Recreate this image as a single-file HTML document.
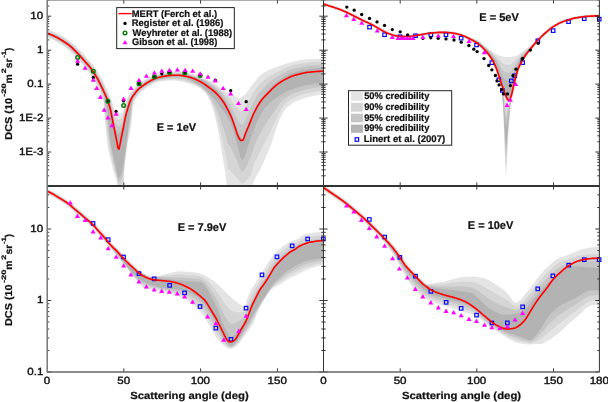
<!DOCTYPE html><html><head><meta charset="utf-8"><style>html,body{margin:0;padding:0;background:#fff;}svg{display:block;will-change:transform;} text{font-family:"Liberation Sans",sans-serif;text-rendering:geometricPrecision;}</style></head><body>
<svg width="608" height="402" viewBox="0 0 608 402">
<rect width="608" height="402" fill="#fff"/>
<defs>
<clipPath id="cTL"><rect x="47" y="0" width="276.5" height="186"/></clipPath>
<clipPath id="cTR"><rect x="323.5" y="0" width="276" height="186"/></clipPath>
<clipPath id="cBL"><rect x="47" y="186" width="276.5" height="186"/></clipPath>
<clipPath id="cBR"><rect x="323.5" y="186" width="276" height="186"/></clipPath>
</defs>
<g clip-path="url(#cTL)">
<path fill="#e4e4e4" d="M45.7,36.8 54.2,40.5 60.9,44.3 67.5,49 72.2,53.4 78.6,60.2 85.5,68 88.4,71.5 93.6,79.8 98.5,89.3 103.6,100.9 104.5,116 107.5,146 108.5,151.2 112.5,167.4 117,182 118.5,189.9 123.5,190 124.5,167.8 127,146.7 131.5,124.3 132,119.5 132.8,105.6 133.2,104.3 134.1,101.9 135.8,98.8 138.6,94.9 141.2,91.9 147.6,87.1 151.4,84.8 154.7,83.1 159,81.4 168.5,80.4 174.5,80.6 184,82.1 193,84.7 198.5,87.2 201,88.8 203,90.5 205.5,93.1 207,95.2 210,101.1 213,109.1 215,116.5 217,125.3 220.5,144.3 225,171.4 226.5,182.4 227.5,195 251,195 252.5,185.6 254,181.1 255.5,177.8 260,170 268,152.3 271,144.6 278,123.6 280.5,117.5 283.5,111.7 286.5,108 289,105.7 292,103.5 295.5,101.6 299.5,99.9 305.5,97.8 310.5,96.4 317.5,94.9 323.5,94 323.5,75 323.7,75 323.5,58.4 307.5,59.3 301,60.1 295.5,61.1 286.5,63.5 272.5,68.6 268,70.5 263,73.2 259.5,75.8 252.5,84.2 245.5,94.2 242,97.1 240,97.9 237.5,97.5 234.5,96.1 225,90.6 213,82.7 210,81 194.3,74.6 187.9,72.7 181,71.6 177,71.3 169.2,71.5 160.2,73 156.8,73.8 154,74.8 149.8,76.8 146.5,78.6 142.3,81.3 138.1,84.3 135.8,86.3 133.5,88.8 130.3,93 128.1,96.5 125.8,101.7 122.4,113 115.2,113 113.2,105.1 110.6,97.4 105.5,86 101.4,77.9 97.8,71.6 94.6,66.8 91.4,62.9 83.4,53.8 75.7,45.9 70.8,41.7 62.5,36.1 54.6,32 48.3,29.4 45.7,36.8Z"/>
<path fill="#d5d5d5" d="M46,35.8 54.2,39.3 60.5,42.9 67.2,47.5 72,51.7 78.9,58.9 86.3,67.3 89.2,70.9 94,78.5 98.9,87.9 103.6,98.1 104.5,109.6 107.5,135 109.5,148.6 112,160.5 116.5,177 118,184.4 118.5,186 120,185.6 121.5,184.5 123.5,181 124.5,164.2 127,144.5 131.5,117.5 132.9,102.2 134,99.8 135.8,96.9 138.7,93.1 140.9,90.8 147.6,86 154.2,82.2 156,81.4 159.5,80.5 168,79.4 174.5,79.4 183,80.3 190,82.4 197,85.5 202,88.7 206,92.6 209,97 212.5,104 214.5,109.4 216.5,115.9 220,129.8 225,152 226.5,160.1 227.5,169 230,170.6 231.5,171.9 236.5,177.2 240.5,182.3 241.5,183.1 242.5,183.3 243.5,183.1 245,182 249,177.6 251,175.8 252.5,168.2 254,163.9 255.5,160.4 270,132.5 278.5,113.7 281.5,108.4 283.5,105.5 286.5,102.5 289.5,100.2 293,98.2 297.5,96.3 304,94.1 310,92.5 317,91.2 323.5,90.3 323.5,61.5 316,61.8 308,62.5 301,63.5 295,64.8 290,66.2 286.5,67.4 275,72.9 269,76.4 262.5,81.2 259,84.7 255,90.3 249.5,99.4 245,108.1 243,110.3 242,110.9 241,111 240,110.6 239,109.9 236,107 230,99 223,92 214,84.8 208,81.1 203,78.8 196,76.1 192,74.7 188,73.8 183.9,73 178.2,72.3 170.9,72.4 167.6,72.7 158.3,74.5 155.5,75.3 152.3,76.7 148.6,78.6 143.9,81.4 139.8,84.4 136.5,87 134.3,89.5 131.1,93.6 129.5,96 127.9,99.1 124.2,110.1 122.3,117.9 119.5,119.7 118.5,120 116,118.7 115.2,118.5 113.3,109.3 110.7,100.7 108.1,94.1 103.1,83.3 100,77.4 96.4,71.3 93.8,67.5 90.7,63.6 81.1,52.8 74.5,46.1 69.7,42.1 64,38.3 56.8,34.2 48,30.4 46,35.8Z"/>
<path fill="#c5c5c5" d="M46.4,34.9 54.7,38.4 60.5,41.7 67.4,46.3 72.2,50.5 79.1,57.7 89.5,69.7 94.4,77.1 99.3,86.4 103.5,95.4 106.5,115.8 110,145.7 112,155.5 116.5,173.7 118,180.9 118.5,182 119,181.9 120,181.2 121.5,179.1 123.5,172 124.5,160.6 129.5,123.1 132,107.5 132.9,99.6 136.5,94.3 140.2,90 146,85.7 151.9,82.2 158.5,79.9 166,78.6 173.5,78.2 182,78.6 187.5,80 194,82.9 200.5,86.6 205,90.4 207.5,93.1 210,96.5 212.5,100.5 214.5,104.4 218,112.7 224.5,131.1 226.5,137.8 227.5,143.1 230,146.2 231.5,148.8 236.5,159.4 240.5,169.6 241.5,171.2 242.5,171.7 243.5,171.1 245,169.1 249,160.3 251,156.6 252.5,150.8 255,144.1 257,139.8 262.5,129.3 266,123.6 277.5,106.5 282.5,100.3 285.5,97.8 289,95.5 293,93.6 298,91.7 304,89.9 310,88.5 317,87.3 323.5,86.7 323.5,64.6 312,65.3 303.5,66.5 294,68.8 289.5,70.1 286.5,71.4 280.5,74.6 272.5,79.8 266.5,85 260.5,91.1 257,96 254,101.5 249.5,110.6 245,121.5 243.5,123.8 242.5,124.5 242,124.6 240.5,123.9 238.5,121.3 235,115.3 230,104.6 227,100 224,95.9 221,92.5 217,88.7 213,85.5 209,82.8 204.5,80.3 200.5,78.5 192,75.5 186,74.1 178.1,73.4 171.4,73.4 168.2,73.6 161.6,74.7 155.8,76.3 148.6,79.8 144,82.6 139.4,85.9 137.2,87.7 135,90.1 130.9,95.6 128.8,99.5 124.7,112.2 122.4,122.7 119.5,126.3 118.5,127 118,126.8 116,124.3 115.2,124 112.8,111.6 111.8,107.6 109.8,101 107.2,94.5 102.7,84.8 99.6,78.8 95.6,71.9 92.5,67.4 88.9,63.1 78.3,51.4 72.8,45.9 68.1,42.2 63,38.8 57.9,35.9 52.8,33.4 47.6,31.3 46.4,34.9Z"/>
<path fill="#b3b3b3" d="M46.7,34 55.1,37.6 61.5,41.2 67.9,45.6 72.8,49.9 79.8,57.1 90.2,69.1 94.7,75.8 99.6,85 103.4,93 106,103.2 107.5,112.9 109.5,135.8 110.5,143.1 117.5,175.5 118,177.3 118.5,178 119.5,177.4 121,175 121.5,173.6 122.5,168.9 126.5,143.7 130.5,110.1 131.5,103.8 133,97.9 136.3,93.1 139.6,89.3 145,85.3 150,82.2 156.5,79.7 164,78 172,77.1 181.5,77 185.5,77.8 190.5,79.9 200.5,85.7 203.5,88 210,94.2 214.5,99.3 224.5,112.5 228.5,118.9 230.5,123.1 233,130.3 236.5,141.6 240.5,157 241.5,159.3 242,159.8 242.5,160 243.5,159.2 245,156.1 249.5,141.4 254.5,128.1 257,122.1 260.5,115.1 263,110.8 265,108 268.5,104.3 273,100.5 280.5,95.1 285.5,92.1 289.5,90.2 298,87.3 306.5,85.1 314.5,83.8 323.5,83 323.5,67.7 318,68 310.5,68.7 305.5,69.5 300,70.7 289,74.1 285.5,75.8 281.5,78.4 274.5,83.7 270.5,87.4 263.5,95.4 259,101.4 256.5,105.7 252.1,114.7 244.1,134.4 242.9,138.3 242.5,138.4 242,138.4 241,137.6 239,134.1 236.2,127.8 230,110.1 225.5,101.4 222.5,96.7 220,93.5 216.5,89.9 212,86.1 206,82 201.5,79.5 192.5,76.4 186,74.8 181,74.2 170.4,74.3 163.8,75.3 159.3,76.2 155.6,77.3 151.6,79.2 148,81.1 143.4,84.1 137.8,88.4 135.7,90.7 132.7,94.7 131.2,97 129.6,100 126.6,109 124.6,116.5 122.4,127.6 119.5,133 119,133.7 118.5,134 118,133.7 116,130 115.4,129.6 111.9,111.8 109.9,104.3 107.9,98.5 103.9,89.4 99.9,81.1 96.3,74.8 92.8,69.3 89.2,64.8 79.2,53.6 73.7,48 69.6,44.4 64.5,40.9 58.5,37.2 52.9,34.4 47.3,32.2 46.7,34ZM111.9,122.3 112.5,125.2 113.1,128.1 112.5,126.2 111.9,122.3Z"/>
</g>
<g clip-path="url(#cTR)">
<path fill="#e4e4e4" d="M323,5.5 336.5,9.9 345.4,13.5 362.3,21.9 371.8,26.3 384.8,33.7 393.6,37 400.9,38 408.1,38.1 412.7,37.6 426.7,35.2 434.1,34.4 439.1,34 445,34 450.8,34.4 458.1,35.8 464.8,38.2 474.2,43 477.5,45.3 480.4,47.7 484.3,51.6 487.2,55.1 490.1,59.4 492.6,63.8 495,69.2 502,90.1 502,93 503.5,117 505,160 505.5,171.2 506,177 506.5,171.9 508.5,131.6 510.9,101 512,98.6 513.1,95.5 516.6,80.1 519,71 520.9,66.3 524.9,59.2 528.8,53.5 536.2,44.4 540.1,40.1 545.1,35.4 551,30.3 553.4,28.5 556.8,26.4 560.7,24.3 565,22.5 574.8,19.7 586.6,17.9 599.5,17.5 599.5,14.3 586.9,14.7 579.3,15.7 573.6,16.7 565.5,19 561.4,20.5 554.7,23.9 549.5,27.4 540.4,35.4 536.3,39.5 533,43.3 523.5,51 518.5,54.5 516.5,55.7 515,56.2 510.5,56.9 506.5,57.1 504,56.7 500,55.7 496,54 490.5,50.6 480.5,42.1 478,40.3 475,38.9 470.4,37.4 464.6,34.6 459.9,33 455.8,32 450.7,31.2 446,30.8 439.5,30.8 428.3,31.8 418.8,33.5 408.4,34.8 401.6,34.9 395.3,34.1 390,32.4 386.2,30.8 372.7,23.2 363.2,18.8 348.7,11.5 340.1,7.8 324,2.5 323,5.5Z"/>
<path fill="#d5d5d5" d="M323.1,5.1 336.6,9.5 345.5,13.1 362.5,21.6 372,25.9 385,33.3 393.7,36.6 400.9,37.6 408,37.7 412.7,37.2 426.7,34.8 434.1,34 439,33.6 445,33.6 450.9,34 457.7,35.3 464.5,37.6 473.9,42.4 479.7,46.5 484.1,50.8 487.1,54.3 490,58.4 492.5,62.6 495.4,69.1 502,88.9 502,92 503.5,113.4 505,151.4 505.5,161.3 506,166.5 506.5,162.3 508.5,127.6 510.9,100.1 512.6,95.4 516.1,80 519.1,69.4 521,65.2 525.5,57.4 527.9,53.8 534.9,45.3 540.8,38.8 545.8,34.2 551.2,29.6 554.1,27.5 557.6,25.5 561.5,23.5 565.4,22 575.2,19.2 586.6,17.5 599.5,17.1 599.5,14.7 587.4,15.1 580.8,15.9 573.7,17.1 566.7,19.1 562.1,20.7 557.5,22.9 551.3,26.5 543.7,32.8 537.7,38.7 533,43.9 521,54.6 514.5,61.3 510.5,64.4 509.5,64.8 508,64.9 504.5,64.3 502.5,63.1 495.5,55.8 485.5,47 478.5,41.3 474.5,39.2 469,37.1 465.5,35.4 461.4,33.8 456.3,32.5 451.1,31.6 446,31.2 439.5,31.2 428.3,32.2 418.8,33.9 408.4,35.3 401.6,35.3 394.8,34.4 389.4,32.6 386,31.2 372.5,23.5 363,19.2 348.5,11.9 341.5,8.8 335.9,6.7 323.9,2.9 323.1,5.1ZM503.4,92.8 505.4,98 506.6,100.1 508.1,101.5 509,101.8 509.8,101.5 509,103.7 507,106.8 506.5,107.2 506,106.7 505.5,104.8 503.4,92.8Z"/>
<path fill="#c5c5c5" d="M323.2,4.7 336.7,9.1 345.7,12.7 362.7,21.2 372.1,25.5 385.2,33 393.8,36.2 400.9,37.2 408,37.2 412.6,36.8 426.6,34.4 434.1,33.5 439,33.2 445,33.2 450.9,33.6 457.8,34.9 464.7,37.2 474.1,42 479.5,45.8 483.9,50 486.9,53.4 489.9,57.4 492.3,61.5 495.8,68.9 502,87.6 502,91 503.5,109.9 505.5,151.4 506,156 506.5,152.6 508.5,123.5 511,98.8 512.2,95.3 515.7,79.9 518.7,69.3 520.7,65 526.1,55.6 535.6,43.9 541.5,37.5 546,33.4 551.5,28.8 554.4,26.8 557.9,24.8 561.3,23.1 565.3,21.6 575.2,18.8 586.6,17.1 599.5,16.7 599.5,15.1 595.5,15.1 585.9,15.6 575.4,17.2 572.3,17.9 563.7,20.5 558.7,22.7 553.6,25.5 549.5,28.4 542,35 536.9,40 533,44.5 522,55.3 519,59 514.5,66.3 511,71.2 509.5,72.6 508.5,72.7 505,72 503.5,71 501.5,68.2 497.5,61 495.5,57.9 488.5,50.4 483,45.4 479,42.3 475,40 471,38.1 462.8,34.8 457.7,33.2 452.1,32.2 446.5,31.7 440,31.6 428.4,32.6 418.9,34.3 408.4,35.7 401.6,35.7 394.7,34.8 389.3,33 385.8,31.6 372.3,23.9 363.8,20 348.8,12.5 343.8,10.2 336.8,7.5 323.8,3.3 323.2,4.7ZM502.1,87.9 505.8,97.8 506.9,99.9 508,101 509,101.4 510,100.8 510.5,100 507,115.1 506.5,116.9 506,117.2 505,110.8 503.5,96.7 502.1,87.9Z"/>
<path fill="#b3b3b3" d="M323.4,4.4 336.9,8.8 345.8,12.4 362.8,20.9 372.3,25.2 385.3,32.6 393.9,35.8 401.5,36.8 408,36.9 412.6,36.4 426.6,34.1 434,33.2 440,32.8 446,32.8 450.5,33.2 457.4,34.4 464.3,36.6 473.8,41.4 479.3,45.1 483.7,49.3 487.2,53.2 490.2,57.2 493.1,62.2 496.1,68.8 502.1,86.9 506.7,98.8 508.2,100.7 509.1,101 509.9,100.4 511,97.8 508,115 506.5,125.4 506,126.5 505,118.5 503.5,99.8 502,88.2 502,90.1 503.5,106.7 505,135.1 506,146.7 506.5,144 508.5,119.9 511.2,97.2 512.4,93.2 515.9,77.9 518.4,69.2 520.9,63.9 523.8,58.6 526.3,54.7 535.8,43 542.3,36.3 551.7,28.2 558.2,24.3 561.7,22.6 565.6,21 575.6,18.3 586.5,16.8 599.5,16.3 599.5,15.5 587.5,15.9 579.9,16.8 573.9,17.8 565.9,20.1 561.8,21.6 556.3,24.4 551.8,27.2 545.2,32.5 539.7,37.7 522,56.9 520,59.7 518.5,62.3 514.5,71.3 511,78.3 510,79.9 509,80.6 507,80.3 505,79.5 503.5,78.1 501.5,74.3 496,60.8 493,56.4 488.5,51.1 484.5,47.2 480.5,44 474,39.9 468.5,37.2 461.1,34.6 456.6,33.4 451,32.4 445.5,32 438.5,32 432,32.6 425.9,33.3 412.4,35.6 408.5,36 401.5,36.1 394.6,35.2 389.1,33.4 385.7,31.9 372.7,24.5 363.2,20.1 345.2,11.2 337.1,8 323.6,3.6 323.4,4.4ZM473.6,40.4 467.2,37.1 466.4,36.7 470,38.3 473.6,40.4Z"/>
</g>
<g clip-path="url(#cBL)">
<path fill="#e4e4e4" d="M46.5,193.6 52.2,196.4 61.6,202.1 67,205.7 89.7,225 102.1,238.5 108.1,245.9 111.3,249.1 128,269.4 135,278.5 144,288.4 146,289.1 155,289.9 161.5,291.1 169.5,293.1 178.5,296.1 182.5,297.7 185.5,299.2 196.5,307.5 200,311.1 204,316.6 209,324.7 216,337.4 222.5,344.6 227,347.8 228.5,348.6 232,348.5 234,347.8 237,345.9 239.5,343.1 252,325.4 253.5,322.4 257.5,312.6 262.5,302.3 267.5,293.9 269.5,291.3 271.5,289.4 275,286.9 279.5,284.7 283,282.6 289.5,278.1 295.5,275.5 305.5,270.2 309,268.7 314.5,266.9 319,265.7 323.5,264.8 323.5,231.7 314,232.5 309,233.4 305.5,234.3 302,235.7 297.5,238.9 289,242.4 283.5,245.8 279,249.4 274,254.6 269.5,260.4 255.5,283 250.5,290.5 248,296.5 245,306.4 244.5,307 244,306.9 242.5,306.3 238.5,303.4 233,298.9 227.5,293.9 218,284.6 213.5,280.8 210,278.4 206,276.1 203,274.7 199.5,273.4 197,272.7 194,272.3 183,271.4 178.5,271.3 175.5,271.7 169,273.2 160.5,275.4 151.8,276.9 148.3,275.8 144.1,273.7 140,270.8 131.5,263.1 126.1,257.8 118.6,249.5 112.2,243.2 105.7,235.4 93.1,221.6 81.4,211.6 76.5,207.6 71.9,203.4 65.7,199 54.6,192.3 48.3,189.2 46.5,193.6Z"/>
<path fill="#d5d5d5" d="M46.7,193 52.5,195.8 62,201.6 67.4,205.2 90.2,224.6 102.1,237.6 108,244.8 110.6,247.6 134.5,277.1 137.5,280.3 143.5,285.9 144.5,286.6 146.5,287.1 168.5,291.5 177,293.6 182,295.1 185,296.3 187,297.3 194,302 197.5,304.7 201,308.2 205,313.6 209.5,320.8 215.5,331.6 222,341.2 223.5,343 227,346.2 228.5,347.3 229.5,347.6 232,347.6 234.5,346.3 237.5,343.6 240.5,339.7 251.5,323.5 258.5,309 262,302.5 265.5,296.7 269.5,290.8 273.5,286.5 276,284.6 289,275.5 303,268.3 307.5,266.4 311.5,265.2 318,263.6 323.5,262.7 323.5,235.2 314.5,235.9 309,236.9 305.5,237.8 302,239.2 298,241.8 289.5,245.7 284.5,248.9 279.5,253.1 274.5,258.4 270.5,263.7 258.5,283.2 251.5,295 249,300.3 245,311.2 244.5,311.9 243,312.4 241.5,312.5 237.5,312.3 234.5,311.8 231.5,310.7 229,308.7 224,302.4 217.5,292.5 215,289.2 210.5,284.1 207,280.7 204,278.3 201.5,276.9 198.5,276 195.5,275.5 178.5,274.4 174,274.7 161,276.2 149.7,277 145,274.9 139.6,271.3 126.7,259.2 118.2,250 111.7,243.6 105.2,235.8 92.6,222 81,212 76.1,208 71.6,204 65.4,199.6 54.3,192.8 48.1,189.7 46.7,193Z"/>
<path fill="#c5c5c5" d="M47,192.5 52.8,195.3 62.3,201.1 67.7,204.7 90.1,223.7 94,227.7 104,238.9 134,275.7 138,279.7 142.5,283.2 145,284.6 152,286.7 161.5,288.8 178.5,291.9 185,293.6 188,294.9 192.5,297.5 196,299.8 199,302.1 201,304 203,306.3 207.5,312.8 212,320.3 223,339.8 227.5,345.1 229,346.3 230,346.7 231,346.9 232,346.7 233,346.2 234.5,345.1 237,342.4 241,337.1 244.5,332 250,323.2 257.5,309.2 263,300.2 270,289.5 273,285.8 275.5,283.2 282.5,277.4 288.5,272.9 302,265.6 306,264 309.5,262.9 317.5,261.3 323.5,260.7 323.5,238.6 319.5,238.8 314.5,239.5 309,240.4 305,241.6 301.5,243 291,248.5 287.5,250.6 283,254 278.5,258.3 274.5,262.8 271,267.7 258.5,288.2 254.5,295.2 251,302.3 244.5,316.8 241.5,319.5 236,322.8 233.5,323.8 232,323.9 231,323.7 230,323.1 228.5,321.5 224.5,315.3 222.5,311.5 217.5,300.8 215,296.4 207.5,285.3 205,282.4 203,280.6 200.5,279.3 197.5,278.8 180,277.5 161.5,277.1 153.5,276.7 149,276.9 147,276.2 144.5,274.5 139.2,271.8 130.2,263.6 124.2,257.6 117.7,250.4 111.2,244 105.3,236.8 95.7,226.1 90.2,220.6 75.6,208.5 71.1,204.4 66,200.7 53,192.7 47.8,190.3 47,192.5Z"/>
<path fill="#b3b3b3" d="M47.2,191.9 53.1,194.8 62.6,200.6 68,204.3 91,223.7 94.5,227.3 104.4,238.5 132,272.7 135.5,276.4 138.5,278.9 142,281 147,283.3 151.5,285.1 156.5,286.6 164.5,288.2 180.5,290.1 187,291.6 190,292.7 193.5,294.5 197,296.8 200.5,299.4 202.5,301.4 205,304.4 211,313.8 216,322.4 221.5,334.3 224,339 228,344.1 229.5,345.5 230.5,345.9 232,345.8 234,344.4 236,342 241.5,334.5 248,324.2 256,309.9 271,287.4 274.5,282.7 280.5,276.5 285,272.6 289,269.7 297,265 303,262.1 306.5,260.8 310,260 317.5,258.9 323.5,258.6 323.5,242.1 317,242.6 308,244.2 302.5,246 296.9,248.6 300.2,246.5 306.6,243.8 310.5,242.8 316.5,241.7 323.5,241.2 323.5,240 315.8,240.6 309.3,241.8 305.2,243 298.6,246 294.6,248.9 290.6,251 288,252.9 281,259.2 275.9,264.5 273.4,267.7 265.9,280.2 260.4,287.9 258.4,291.3 251.4,305.5 246.9,317.2 243,324.2 240.5,327.9 235,334.6 232.5,336.6 231.5,336.9 230.5,336.9 229.5,336.1 228.5,334.8 224,326.4 222,321.6 217.5,309.2 215,303.6 207,288.7 204.5,285.2 202.5,283.2 201,282.3 199.5,281.9 185.5,281 175,280 164,278.5 153.5,276.7 149,276.9 147,276.2 144.5,274.5 139.3,272.6 130.3,264.4 123.8,258 117.3,250.8 110.8,244.4 103.8,236 94.8,226 90.3,221.4 75.3,208.9 70.8,204.8 67.2,202.2 53.2,193.5 47.6,190.8 47.2,191.9Z"/>
</g>
<g clip-path="url(#cBR)">
<path fill="#e4e4e4" d="M322.2,189.6 341.6,202.9 355.5,214.2 365.8,223.5 382.5,240.1 389.5,248.9 394.5,256.1 406,277 411,285 413.5,288.3 416,291.2 421.5,296.2 424,298 426.5,299.4 433.5,302.5 461,310.8 471,314.1 476,316.2 479.5,318.3 486,323.7 495.5,330.4 508,338.4 515,341.9 517.5,342.8 520.5,343.4 528,344.5 539.5,344.1 541.5,343.9 543.5,343.3 551.5,338.6 558,333.7 562,330.2 570.5,322.1 578,316.1 584.5,309.6 587,307.5 589,306.3 591.5,305.6 596,304.8 599.5,304.5 599.5,246.8 592,247.3 582.5,249 579,250.3 566.5,255.4 560,257.4 557,259.1 551.5,263.2 544,270.4 539.5,275.6 529.5,288.9 524,295.7 518.5,301.7 517,302.6 515.5,302.7 514.5,302.2 513,300.7 507.5,293.3 504,290.3 500,287.3 492,282.1 488,279.8 485,278.6 479.5,277.2 474.5,276.6 462.5,277 454,278.7 445,281.4 426.9,284.2 422.2,280 408.8,265.9 406,262.3 401.5,255.4 398.4,251.1 394.8,246.6 390.8,241.9 379.7,230.3 365.1,216.3 357.5,209.7 345,199.4 324.8,185.6 322.2,189.6Z"/>
<path fill="#d5d5d5" d="M322.5,189.1 341.4,202 355.4,213.3 365.8,222.6 382.3,239 389,247.2 393.5,253.5 404.5,272.4 410.5,281.5 413.5,285.4 416.5,288.7 423,294.6 428,297.8 433,300 460,307.8 468.5,310.6 473,312.5 478.5,315.8 487.5,323.5 496.5,329.7 507,336 514.5,339.4 518,340.6 528.5,342.9 530.5,343 532,342.8 535.5,341.5 541,338.8 542.5,337.8 549.5,331.6 569.5,315.6 577.5,310 584,304.3 586.5,302.4 588.5,301.3 590,300.9 595.5,300 599.5,299.7 599.5,253.9 593.5,254.1 584.5,254.7 579.5,255.5 571,257.9 561,261.8 558,263.3 551.5,268.5 543.5,276.5 539.5,281.2 530.5,292.9 524,300.8 519,305.2 517.5,306.1 516.5,306.4 515.5,306.4 514,305.9 507.5,300.4 490.5,290.4 480,284.8 477,283.4 474.5,282.6 470.5,282 463,281.7 454,282.6 443.5,284.2 429.5,284.8 426.3,284.5 421.8,280.5 408.3,266.3 405.5,262.7 401,255.7 397.9,251.5 394.4,246.9 390.3,242.3 379.8,231.3 365.7,217.6 358.1,211 345.1,200.3 324.5,186.1 322.5,189.1Z"/>
<path fill="#c5c5c5" d="M322.9,188.6 340.8,200.8 348.8,207 363.7,219.8 380.7,236.4 386,242.5 392,250.3 395.5,255.6 403.5,268.9 410.5,278.7 417,286.3 424.5,293 428.5,295.7 433,297.6 437.5,299 448,301.5 459,304.7 465.5,306.8 471,309 474,310.7 477,312.9 487,321.7 494,326.7 502,331.8 506,333.8 509.5,335.3 516.5,337.8 527.5,341.2 530,341.5 532,341.1 535,339.1 541,333.6 543,331.4 548,325 551,321.9 557,316.8 563.5,312.1 569,308.5 576.5,304.1 584,298.5 587,296.7 590,295.8 595,295.2 599.5,295 599.5,261.1 583.1,260.9 591.1,259.7 599.5,259.4 599.5,257 589.9,257.5 584.8,258.2 580.2,259.2 576.6,260.3 573.4,261.7 568.5,263.2 562,266.1 558.5,267.9 553,272.3 545,280.4 539.5,286.7 531.5,296.9 524.5,305.3 523,306.7 520.5,308.4 518.5,309.5 516.5,310.1 515,310.2 513,309.7 508,307.7 503,306.2 499,304.4 488,298.2 476.5,289.8 474,288.5 471.5,287.5 467.5,286.9 462,286.5 445.5,286.7 437.5,286.5 430,285.9 427,285.1 425,284.3 422.8,282.4 409.8,268.9 405.4,263.7 398.9,253.9 391.9,245 380.3,232.7 365.8,218.6 358.2,211.9 344.7,200.8 324.1,186.6 322.9,188.6Z"/>
<path fill="#b3b3b3" d="M323.2,188.1 340.7,200 348.1,205.8 363.1,218.5 379.1,233.9 383,238 391,247.9 403,266.3 409.5,274.7 417,283.3 426,291.6 429,293.7 433,295.3 437.5,296.6 448,298.9 459,302 465.5,304.1 470.5,306.2 473,307.7 476,310.1 485.5,319 489.5,322.3 499.5,329 503,330.9 506.5,332.3 522,337.2 528,339.7 530,340 531.5,339.6 533,338.6 534.5,337 540.5,329.1 547.5,317.9 549.5,315.1 553.5,310.9 558,307.2 563,304 575.5,297.9 583.5,293 586.5,291.5 590,290.6 599.5,290.2 599.5,268.2 589.5,267.6 579,266.4 574.5,266.2 572.5,266.4 570,267.1 564.8,269.2 570.8,265.1 574.8,263 577.7,261.7 582.6,260.4 587.6,259.5 592.5,259 599.5,258.8 599.5,257.6 590.4,258 585.4,258.6 581.4,259.5 575.8,261.2 569.7,264.4 565.1,267.5 560.5,271.5 558,273.1 555.5,275.1 546,284.7 539.5,292.3 526,308.8 523,311.7 521,312.6 518,313.5 510.5,314.5 504,314.7 500,313.8 495.5,311.7 488,307.3 485,304.8 476,295.9 473.5,294 471.5,293 469.5,292.4 464.5,291.5 441,288.9 434.5,288 429.5,286.8 427.5,285.8 425.5,284.4 423.9,284.1 420.9,281.3 419.5,279.3 416.5,276.7 408,267.6 405,264 399.5,255.7 393,247.1 382,235.1 375.5,228.5 361.9,215.8 344.9,201.6 339.8,198 323.8,187.1 323.2,188.1Z"/>
</g>
<g fill="none" stroke="#00f" stroke-width="1.15"><rect x="367.8" y="25.4" width="3.5" height="3.5"/><rect x="382.8" y="33" width="3.5" height="3.5"/><rect x="398.4" y="35" width="3.5" height="3.5"/><rect x="413.8" y="34" width="3.5" height="3.5"/><rect x="429.1" y="32.9" width="3.5" height="3.5"/><rect x="444.2" y="33" width="3.5" height="3.5"/><rect x="459.4" y="36.4" width="3.5" height="3.5"/><rect x="474.8" y="43.2" width="3.5" height="3.5"/><rect x="490.1" y="60.9" width="3.5" height="3.5"/><rect x="497.1" y="78" width="3.5" height="3.5"/><rect x="500.6" y="88.7" width="3.5" height="3.5"/><rect x="509.6" y="79.2" width="3.5" height="3.5"/><rect x="513" y="74" width="3.5" height="3.5"/><rect x="520.9" y="60.9" width="3.5" height="3.5"/><rect x="536.1" y="39" width="3.5" height="3.5"/><rect x="551.4" y="28.9" width="3.5" height="3.5"/><rect x="566.8" y="19.9" width="3.5" height="3.5"/><rect x="582.5" y="16.9" width="3.5" height="3.5"/><rect x="597.5" y="17.4" width="3.5" height="3.5"/><rect x="91.3" y="221.7" width="3.5" height="3.5"/><rect x="106.5" y="237.9" width="3.5" height="3.5"/><rect x="121.8" y="255.2" width="3.5" height="3.5"/><rect x="137.2" y="271.8" width="3.5" height="3.5"/><rect x="152.4" y="277.1" width="3.5" height="3.5"/><rect x="167.9" y="283.6" width="3.5" height="3.5"/><rect x="182.8" y="291.1" width="3.5" height="3.5"/><rect x="198.3" y="304.8" width="3.5" height="3.5"/><rect x="214.1" y="326.4" width="3.5" height="3.5"/><rect x="229.2" y="337.6" width="3.5" height="3.5"/><rect x="244.3" y="306.4" width="3.5" height="3.5"/><rect x="260.2" y="273.1" width="3.5" height="3.5"/><rect x="275.2" y="255.1" width="3.5" height="3.5"/><rect x="290.4" y="244.1" width="3.5" height="3.5"/><rect x="305.9" y="237.2" width="3.5" height="3.5"/><rect x="321.6" y="237.2" width="3.5" height="3.5"/><rect x="367.6" y="217.7" width="3.5" height="3.5"/><rect x="382.9" y="235.3" width="3.5" height="3.5"/><rect x="398.1" y="255.6" width="3.5" height="3.5"/><rect x="413.8" y="274.4" width="3.5" height="3.5"/><rect x="429.1" y="289.6" width="3.5" height="3.5"/><rect x="444.4" y="300.6" width="3.5" height="3.5"/><rect x="459.4" y="306.6" width="3.5" height="3.5"/><rect x="474.8" y="313.4" width="3.5" height="3.5"/><rect x="490.1" y="321.2" width="3.5" height="3.5"/><rect x="505.6" y="321.1" width="3.5" height="3.5"/><rect x="520.9" y="305.1" width="3.5" height="3.5"/><rect x="536" y="287.1" width="3.5" height="3.5"/><rect x="551.1" y="274.1" width="3.5" height="3.5"/><rect x="567" y="263.4" width="3.5" height="3.5"/><rect x="582.5" y="257.9" width="3.5" height="3.5"/><rect x="597.4" y="257.9" width="3.5" height="3.5"/></g>
<path clip-path="url(#cTL)" d="M47,33.1 48,33.5 49,33.8 50,34.3 51,34.7 52,35.1 53,35.6 54,36 55,36.5 56,37 57,37.5 58,38.1 59,38.6 60,39.2 61,39.8 62,40.4 63,41 64,41.7 65,42.3 66,43 67,43.7 68,44.4 69,45.2 70,46 71,46.8 72,47.7 73,48.7 74,49.7 75,50.7 76,51.7 77,52.7 78,53.7 79,54.8 80,55.9 81,57 82,58.1 83,59.3 84,60.4 85,61.5 86,62.6 87,63.8 88,64.9 89,66 90,67.3 91,68.5 92,69.9 93,71.3 94,72.9 95,74.5 96,76.2 97,77.9 98,79.7 99,81.6 100,83.6 101,85.6 102,87.7 103,89.8 104,92 105,94.2 106,96.4 107,98.9 108,101.6 109,104.6 110,108 111,112 112,117.3 113,122.5 114,127.5 115,132.5 116,137.5 117,142.4 118,148.2 119,149.2 120,144.4 121,139.1 122,134.2 123,129.5 124,124.3 125,119.1 126,114.6 127,111 128,107.7 129,104.5 130,101.6 131,99.3 132,97.5 133,95.9 134,94.5 135,93.2 136,91.9 137,90.7 138,89.6 139,88.6 140,87.8 141,87 142,86.3 143,85.6 144,84.9 145,84.2 146,83.5 147,82.9 148,82.3 149,81.7 150,81.1 151,80.6 152,80 153,79.6 154,79.1 155,78.7 156,78.3 157,77.9 158,77.5 159,77.3 160,77 161,76.8 162,76.6 163,76.4 164,76.2 165,76.1 166,75.9 167,75.7 168,75.6 169,75.4 170,75.3 171,75.3 172,75.3 173,75.2 174,75.2 175,75.2 176,75.2 177,75.2 178,75.2 179,75.3 180,75.4 181,75.5 182,75.6 183,75.8 184,75.9 185,76.1 186,76.3 187,76.5 188,76.7 189,77 190,77.3 191,77.6 192,77.9 193,78.3 194,78.6 195,79.1 196,79.5 197,79.9 198,80.4 199,80.9 200,81.4 201,82 202,82.6 203,83.2 204,83.9 205,84.6 206,85.3 207,86 208,86.8 209,87.5 210,88.2 211,88.9 212,89.7 213,90.5 214,91.3 215,92.2 216,93.2 217,94.2 218,95.2 219,96.3 220,97.5 221,98.7 222,100 223,101.4 224,102.9 225,104.5 226,106.4 227,108.3 228,110.2 229,112.1 230,114.1 231,116.2 232,118.6 233,121.3 234,124.2 235,127.1 236,130.2 237,133.2 238,135.9 239,138.2 240,139.7 241,140.5 242,140.5 243,140.2 244,138 245,134.8 246,132.3 247,129.9 248,127.5 249,125.1 250,122.6 251,120.1 252,117.5 253,115.1 254,113 255,111 256,109.1 257,107.2 258,105.5 259,103.8 260,102.3 261,100.9 262,99.6 263,98.3 264,97.2 265,96.1 266,95.1 267,94.2 268,93.2 269,92.2 270,91.1 271,90.1 272,89 273,88.1 274,87.1 275,86.3 276,85.4 277,84.6 278,83.9 279,83.1 280,82.5 281,81.8 282,81.2 283,80.6 284,80 285,79.5 286,78.9 287,78.4 288,77.9 289,77.4 290,77 291,76.6 292,76.2 293,75.8 294,75.5 295,75.2 296,74.9 297,74.6 298,74.4 299,74.1 300,73.9 301,73.6 302,73.4 303,73.2 304,73 305,72.8 306,72.6 307,72.4 308,72.3 309,72.2 310,72.1 311,72 312,71.9 313,71.8 314,71.7 315,71.6 316,71.5 317,71.5 318,71.4 319,71.3 320,71.3 321,71.2 322,71.2 323,71.1 323.5,71.1" fill="none" stroke="#f00" stroke-width="1.65" stroke-linejoin="round"/>
<path clip-path="url(#cTR)" d="M323.5,4 324.5,4.3 325.5,4.7 326.5,5 327.5,5.3 328.5,5.7 329.5,6 330.5,6.3 331.5,6.6 332.5,6.9 333.5,7.2 334.5,7.5 335.5,7.9 336.5,8.2 337.5,8.6 338.5,8.9 339.5,9.3 340.5,9.7 341.5,10.1 342.5,10.5 343.5,11 344.5,11.4 345.5,11.8 346.5,12.3 347.5,12.7 348.5,13.2 349.5,13.7 350.5,14.2 351.5,14.7 352.5,15.2 353.5,15.8 354.5,16.3 355.5,16.8 356.5,17.3 357.5,17.8 358.5,18.3 359.5,18.8 360.5,19.3 361.5,19.8 362.5,20.3 363.5,20.7 364.5,21.2 365.5,21.7 366.5,22.1 367.5,22.6 368.5,23.1 369.5,23.5 370.5,23.9 371.5,24.4 372.5,24.9 373.5,25.4 374.5,26 375.5,26.6 376.5,27.2 377.5,27.8 378.5,28.4 379.5,29 380.5,29.6 381.5,30.2 382.5,30.7 383.5,31.3 384.5,31.8 385.5,32.3 386.5,32.7 387.5,33.2 388.5,33.5 389.5,33.9 390.5,34.3 391.5,34.6 392.5,35 393.5,35.3 394.5,35.6 395.5,35.8 396.5,35.9 397.5,36.1 398.5,36.2 399.5,36.3 400.5,36.4 401.5,36.4 402.5,36.5 403.5,36.5 404.5,36.5 405.5,36.5 406.5,36.5 407.5,36.5 408.5,36.4 409.5,36.4 410.5,36.3 411.5,36.2 412.5,36 413.5,35.9 414.5,35.7 415.5,35.6 416.5,35.4 417.5,35.3 418.5,35.1 419.5,35 420.5,34.8 421.5,34.6 422.5,34.4 423.5,34.2 424.5,34 425.5,33.8 426.5,33.7 427.5,33.5 428.5,33.4 429.5,33.3 430.5,33.1 431.5,33 432.5,32.9 433.5,32.8 434.5,32.7 435.5,32.7 436.5,32.6 437.5,32.5 438.5,32.4 439.5,32.4 440.5,32.4 441.5,32.4 442.5,32.4 443.5,32.4 444.5,32.4 445.5,32.4 446.5,32.4 447.5,32.5 448.5,32.6 449.5,32.7 450.5,32.8 451.5,32.9 452.5,33 453.5,33.2 454.5,33.3 455.5,33.5 456.5,33.7 457.5,34 458.5,34.2 459.5,34.5 460.5,34.8 461.5,35.1 462.5,35.5 463.5,35.9 464.5,36.3 465.5,36.7 466.5,37.2 467.5,37.7 468.5,38.2 469.5,38.7 470.5,39.3 471.5,39.8 472.5,40.3 473.5,40.8 474.5,41.4 475.5,42 476.5,42.6 477.5,43.3 478.5,44 479.5,44.8 480.5,45.6 481.5,46.5 482.5,47.5 483.5,48.5 484.5,49.5 485.5,50.6 486.5,51.7 487.5,52.9 488.5,54.2 489.5,55.5 490.5,57 491.5,58.5 492.5,60.2 493.5,62.1 494.5,64.1 495.5,66.3 496.5,68.7 497.5,71.6 498.5,74.8 499.5,77.9 500.5,80.9 501.5,83.8 502.5,86.7 503.5,89.5 504.5,92.3 505.5,94.8 506.5,97.5 507.5,99.4 508.5,100.4 509.5,100.3 510.5,98 511.5,95.1 512.5,90.7 513.5,86 514.5,81.8 515.5,77.8 516.5,74 517.5,70.5 518.5,67.8 519.5,65.6 520.5,63.7 521.5,61.9 522.5,60.1 523.5,58.4 524.5,56.7 525.5,55.2 526.5,53.8 527.5,52.5 528.5,51.2 529.5,50 530.5,48.8 531.5,47.6 532.5,46.4 533.5,45.2 534.5,44 535.5,42.8 536.5,41.6 537.5,40.6 538.5,39.5 539.5,38.5 540.5,37.5 541.5,36.5 542.5,35.6 543.5,34.6 544.5,33.7 545.5,32.8 546.5,32 547.5,31.1 548.5,30.3 549.5,29.4 550.5,28.6 551.5,27.8 552.5,27.1 553.5,26.5 554.5,25.9 555.5,25.3 556.5,24.7 557.5,24.2 558.5,23.6 559.5,23.1 560.5,22.7 561.5,22.2 562.5,21.8 563.5,21.4 564.5,21 565.5,20.7 566.5,20.3 567.5,20.1 568.5,19.8 569.5,19.5 570.5,19.2 571.5,18.9 572.5,18.6 573.5,18.3 574.5,18.1 575.5,17.9 576.5,17.7 577.5,17.6 578.5,17.4 579.5,17.2 580.5,17.1 581.5,17 582.5,16.8 583.5,16.7 584.5,16.6 585.5,16.5 586.5,16.4 587.5,16.3 588.5,16.2 589.5,16.2 590.5,16.1 591.5,16.1 592.5,16.1 593.5,16 594.5,15.9 595.5,15.9 596.5,15.9 597.5,15.9 598.5,15.9 599.5,15.9" fill="none" stroke="#f00" stroke-width="1.65" stroke-linejoin="round"/>
<path clip-path="url(#cBL)" d="M46.9,191.2 47.9,191.6 48.9,192 49.9,192.5 50.9,193 51.9,193.5 52.9,194 53.9,194.6 54.9,195.2 55.9,195.9 56.9,196.5 57.9,197.1 58.9,197.7 59.9,198.3 60.9,198.9 61.9,199.5 62.9,200.1 63.9,200.7 64.9,201.4 65.9,202 66.9,202.7 67.9,203.4 68.9,204.1 69.9,204.9 70.9,205.7 71.9,206.6 72.9,207.6 73.9,208.5 74.9,209.4 75.9,210.2 76.9,211 77.9,211.8 78.9,212.6 79.9,213.4 80.9,214.3 81.9,215.2 82.9,216.1 83.9,217 84.9,217.9 85.9,218.7 86.9,219.5 87.9,220.3 88.9,221.1 89.9,221.9 90.9,222.8 91.9,223.8 92.9,224.8 93.9,225.8 94.9,226.9 95.9,228 96.9,229.2 97.9,230.4 98.9,231.5 99.9,232.6 100.9,233.7 101.9,234.7 102.9,235.8 103.9,237 104.9,238.1 105.9,239.3 106.9,240.6 107.9,241.9 108.9,243.1 109.9,244.2 110.9,245.3 111.9,246.3 112.9,247.3 113.9,248.3 114.9,249.2 115.9,250.2 116.9,251.2 117.9,252.3 118.9,253.4 119.9,254.6 120.9,255.7 121.9,256.8 122.9,257.9 123.9,258.9 124.9,260 125.9,261 126.9,262 127.9,262.9 128.9,263.9 129.9,264.9 130.9,265.8 131.9,266.7 132.9,267.6 133.9,268.5 134.9,269.4 135.9,270.3 136.9,271.3 137.9,272.2 138.9,273 139.9,273.8 140.9,274.5 141.9,275.2 142.9,275.8 143.9,276.3 144.9,276.9 145.9,277.3 146.9,277.8 147.9,278.2 148.9,278.6 149.9,278.9 150.9,279.2 151.9,279.4 152.9,279.6 153.9,279.8 154.9,279.9 155.9,280 156.9,280.1 157.9,280.2 158.9,280.3 159.9,280.4 160.9,280.5 161.9,280.6 162.9,280.7 163.9,280.8 164.9,280.9 165.9,281 166.9,281.1 167.9,281.2 168.9,281.3 169.9,281.4 170.9,281.6 171.9,281.8 172.9,282 173.9,282.2 174.9,282.4 175.9,282.7 176.9,283 177.9,283.3 178.9,283.6 179.9,283.9 180.9,284.3 181.9,284.7 182.9,285.1 183.9,285.5 184.9,285.9 185.9,286.4 186.9,286.9 187.9,287.4 188.9,287.9 189.9,288.5 190.9,289.1 191.9,289.8 192.9,290.5 193.9,291.2 194.9,291.9 195.9,292.7 196.9,293.5 197.9,294.3 198.9,295.1 199.9,295.9 200.9,296.7 201.9,297.6 202.9,298.4 203.9,299.3 204.9,300.4 205.9,301.7 206.9,303.3 207.9,304.9 208.9,306.5 209.9,308.2 210.9,309.9 211.9,311.5 212.9,313.2 213.9,314.8 214.9,316.4 215.9,318 216.9,319.8 217.9,322 218.9,324 219.9,326 220.9,328 221.9,330 222.9,332 223.9,334 224.9,336.2 225.9,338.2 226.9,339.7 227.9,340.9 228.9,341.5 229.9,341.9 230.9,342 231.9,341.7 232.9,341.3 233.9,340.7 234.9,339.8 235.9,338.7 236.9,337.2 237.9,335.3 238.9,333.4 239.9,331.7 240.9,329.9 241.9,328.2 242.9,326.5 243.9,324.8 244.9,323 245.9,321.1 246.9,318.9 247.9,316.4 248.9,313.8 249.9,311 250.9,308.2 251.9,305.7 252.9,303.6 253.9,301.6 254.9,299.7 255.9,297.7 256.9,295.6 257.9,293.5 258.9,291.6 259.9,289.8 260.9,288.3 261.9,286.9 262.9,285.5 263.9,284.2 264.9,282.8 265.9,281.3 266.9,279.7 267.9,278.1 268.9,276.5 269.9,274.8 270.9,273.1 271.9,271.4 272.9,269.6 273.9,268.1 274.9,266.7 275.9,265.5 276.9,264.4 277.9,263.3 278.9,262.2 279.9,261.1 280.9,260.1 281.9,259.1 282.9,258.1 283.9,257.2 284.9,256.3 285.9,255.5 286.9,254.6 287.9,253.8 288.9,252.9 289.9,252.1 290.9,251.5 291.9,250.9 292.9,250.4 293.9,249.9 294.9,249.4 295.9,248.7 296.9,247.9 297.9,247.1 298.9,246.5 299.9,246 300.9,245.5 301.9,245.1 302.9,244.6 303.9,244.2 304.9,243.8 305.9,243.4 306.9,243.1 307.9,242.8 308.9,242.5 309.9,242.3 310.9,242.1 311.9,241.9 312.9,241.7 313.9,241.6 314.9,241.4 315.9,241.2 316.9,241.1 317.9,241 318.9,240.9 319.9,240.8 320.9,240.7 321.9,240.6 322.9,240.6 323.5,240.6" fill="none" stroke="#f00" stroke-width="1.65" stroke-linejoin="round"/>
<path clip-path="url(#cBR)" d="M323.5,187.6 324.5,188.3 325.5,189 326.5,189.6 327.5,190.3 328.5,191 329.5,191.7 330.5,192.4 331.5,193 332.5,193.7 333.5,194.4 334.5,195.1 335.5,195.8 336.5,196.4 337.5,197.1 338.5,197.8 339.5,198.5 340.5,199.2 341.5,199.9 342.5,200.6 343.5,201.4 344.5,202.1 345.5,202.9 346.5,203.7 347.5,204.5 348.5,205.3 349.5,206.2 350.5,207 351.5,207.8 352.5,208.7 353.5,209.5 354.5,210.3 355.5,211.1 356.5,212 357.5,212.8 358.5,213.7 359.5,214.5 360.5,215.4 361.5,216.2 362.5,217.1 363.5,218 364.5,218.9 365.5,219.9 366.5,220.8 367.5,221.8 368.5,222.7 369.5,223.7 370.5,224.7 371.5,225.6 372.5,226.6 373.5,227.6 374.5,228.6 375.5,229.5 376.5,230.5 377.5,231.5 378.5,232.5 379.5,233.5 380.5,234.5 381.5,235.6 382.5,236.6 383.5,237.6 384.5,238.7 385.5,239.7 386.5,240.8 387.5,241.8 388.5,242.9 389.5,244 390.5,245.2 391.5,246.3 392.5,247.5 393.5,248.7 394.5,250 395.5,251.2 396.5,252.6 397.5,253.9 398.5,255.3 399.5,256.7 400.5,258.2 401.5,259.8 402.5,261.4 403.5,262.9 404.5,264.4 405.5,265.7 406.5,266.9 407.5,268 408.5,269.2 409.5,270.2 410.5,271.3 411.5,272.3 412.5,273.3 413.5,274.4 414.5,275.4 415.5,276.4 416.5,277.5 417.5,278.6 418.5,279.6 419.5,280.7 420.5,281.7 421.5,282.7 422.5,283.7 423.5,284.6 424.5,285.4 425.5,286.1 426.5,286.8 427.5,287.5 428.5,288.2 429.5,288.9 430.5,289.5 431.5,290 432.5,290.6 433.5,291.1 434.5,291.6 435.5,292 436.5,292.4 437.5,292.8 438.5,293.1 439.5,293.5 440.5,293.8 441.5,294.1 442.5,294.4 443.5,294.7 444.5,295 445.5,295.3 446.5,295.6 447.5,295.9 448.5,296.1 449.5,296.4 450.5,296.6 451.5,296.8 452.5,297.1 453.5,297.4 454.5,297.7 455.5,298 456.5,298.3 457.5,298.6 458.5,298.9 459.5,299.3 460.5,299.6 461.5,300 462.5,300.4 463.5,300.8 464.5,301.3 465.5,301.7 466.5,302.3 467.5,302.9 468.5,303.5 469.5,304.1 470.5,304.8 471.5,305.5 472.5,306.2 473.5,307 474.5,307.7 475.5,308.4 476.5,309.2 477.5,310 478.5,310.9 479.5,311.7 480.5,312.6 481.5,313.4 482.5,314.3 483.5,315.1 484.5,315.9 485.5,316.7 486.5,317.6 487.5,318.5 488.5,319.3 489.5,320.2 490.5,321.1 491.5,321.9 492.5,322.7 493.5,323.4 494.5,324.1 495.5,324.6 496.5,325.2 497.5,325.7 498.5,326.2 499.5,326.7 500.5,327.2 501.5,327.6 502.5,328 503.5,328.4 504.5,328.6 505.5,328.9 506.5,329 507.5,329 508.5,329 509.5,328.9 510.5,328.8 511.5,328.7 512.5,328.5 513.5,328.4 514.5,328.2 515.5,327.8 516.5,327.3 517.5,326.7 518.5,326 519.5,325.2 520.5,324.5 521.5,323.7 522.5,322.7 523.5,321.7 524.5,320.6 525.5,319.3 526.5,317.8 527.5,316.2 528.5,314.5 529.5,312.9 530.5,311.2 531.5,309.5 532.5,307.8 533.5,306.1 534.5,304.6 535.5,303.1 536.5,301.6 537.5,300.2 538.5,298.8 539.5,297.4 540.5,296.1 541.5,294.8 542.5,293.5 543.5,292.2 544.5,291 545.5,289.8 546.5,288.5 547.5,287.2 548.5,285.7 549.5,284.2 550.5,282.8 551.5,281.5 552.5,280.2 553.5,279 554.5,277.9 555.5,276.8 556.5,275.8 557.5,274.9 558.5,274.1 559.5,273.2 560.5,272.3 561.5,271.4 562.5,270.5 563.5,269.6 564.5,268.7 565.5,268 566.5,267.2 567.5,266.5 568.5,265.8 569.5,265.2 570.5,264.6 571.5,264 572.5,263.5 573.5,263 574.5,262.4 575.5,262 576.5,261.5 577.5,261.2 578.5,260.8 579.5,260.6 580.5,260.3 581.5,260 582.5,259.8 583.5,259.6 584.5,259.4 585.5,259.2 586.5,259.1 587.5,258.9 588.5,258.8 589.5,258.7 590.5,258.6 591.5,258.5 592.5,258.4 593.5,258.4 594.5,258.3 595.5,258.3 596.5,258.3 597.5,258.2 598.5,258.2 599.5,258.2" fill="none" stroke="#f00" stroke-width="1.65" stroke-linejoin="round"/>
<g><circle cx="77.6" cy="64.2" r="1.65" fill="#000"/><circle cx="93.3" cy="77.5" r="1.65" fill="#000"/><circle cx="107.9" cy="101.3" r="1.65" fill="#000"/><circle cx="116.1" cy="111.5" r="1.65" fill="#000"/><circle cx="123.6" cy="100.9" r="1.65" fill="#000"/><circle cx="139" cy="83.7" r="1.65" fill="#000"/><circle cx="154.4" cy="76.8" r="1.65" fill="#000"/><circle cx="161.8" cy="73.8" r="1.65" fill="#000"/><circle cx="169.5" cy="72.4" r="1.65" fill="#000"/><circle cx="184.8" cy="72.8" r="1.65" fill="#000"/><circle cx="200.2" cy="75.2" r="1.65" fill="#000"/><circle cx="215.3" cy="80.2" r="1.65" fill="#000"/><circle cx="230.7" cy="90.7" r="1.65" fill="#000"/><circle cx="246.2" cy="101.7" r="1.65" fill="#000"/><circle cx="346.8" cy="7.1" r="1.65" fill="#000"/><circle cx="354.2" cy="10.2" r="1.65" fill="#000"/><circle cx="361.7" cy="14.5" r="1.65" fill="#000"/><circle cx="369.5" cy="18.4" r="1.65" fill="#000"/><circle cx="377" cy="21.9" r="1.65" fill="#000"/><circle cx="384.5" cy="25.4" r="1.65" fill="#000"/><circle cx="392.3" cy="29.6" r="1.65" fill="#000"/><circle cx="400.2" cy="31.8" r="1.65" fill="#000"/><circle cx="407.6" cy="35" r="1.65" fill="#000"/><circle cx="422.9" cy="38.3" r="1.65" fill="#000"/><circle cx="430.8" cy="37.8" r="1.65" fill="#000"/><circle cx="438.2" cy="38.3" r="1.65" fill="#000"/><circle cx="446" cy="38.9" r="1.65" fill="#000"/><circle cx="454" cy="40" r="1.65" fill="#000"/><circle cx="461.2" cy="42.2" r="1.65" fill="#000"/><circle cx="468.9" cy="45.5" r="1.65" fill="#000"/><circle cx="473.8" cy="49.2" r="1.65" fill="#000"/><circle cx="477.1" cy="51.6" r="1.65" fill="#000"/><circle cx="484" cy="58.6" r="1.65" fill="#000"/><circle cx="488.7" cy="65.5" r="1.65" fill="#000"/><circle cx="491.9" cy="69.8" r="1.65" fill="#000"/><circle cx="495.4" cy="75.5" r="1.65" fill="#000"/><circle cx="497" cy="80.9" r="1.65" fill="#000"/><circle cx="499.1" cy="84.9" r="1.65" fill="#000"/><circle cx="501.7" cy="89.6" r="1.65" fill="#000"/><circle cx="503.5" cy="93.9" r="1.65" fill="#000"/><circle cx="507.5" cy="93.9" r="1.65" fill="#000"/><circle cx="510.4" cy="85.6" r="1.65" fill="#000"/><circle cx="513" cy="75.7" r="1.65" fill="#000"/><circle cx="516" cy="69.2" r="1.65" fill="#000"/><circle cx="522.6" cy="58.3" r="1.65" fill="#000"/><circle cx="530.4" cy="50.1" r="1.65" fill="#000"/><circle cx="538.2" cy="43.3" r="1.65" fill="#000"/><circle cx="522.2" cy="59" r="1.65" fill="#000"/><circle cx="77.6" cy="57.4" r="1.8" fill="none" stroke="#007a00" stroke-width="1.45"/><circle cx="93.3" cy="71.2" r="1.8" fill="none" stroke="#007a00" stroke-width="1.45"/><circle cx="107.9" cy="101.3" r="1.8" fill="none" stroke="#007a00" stroke-width="1.45"/><circle cx="123.6" cy="105.5" r="1.8" fill="none" stroke="#007a00" stroke-width="1.45"/><circle cx="139" cy="83.7" r="1.8" fill="none" stroke="#007a00" stroke-width="1.45"/><circle cx="154.4" cy="76.8" r="1.8" fill="none" stroke="#007a00" stroke-width="1.45"/><circle cx="169.5" cy="72.4" r="1.8" fill="none" stroke="#007a00" stroke-width="1.45"/><circle cx="184.8" cy="72.8" r="1.8" fill="none" stroke="#007a00" stroke-width="1.45"/><circle cx="200.2" cy="75.6" r="1.8" fill="none" stroke="#007a00" stroke-width="1.45"/><path d="M77.6,58.4l2.5,4.3h-5z" fill="#f0f"/><path d="M85.1,65.4l2.5,4.3h-5z" fill="#f0f"/><path d="M93.3,77.4l2.5,4.3h-5z" fill="#f0f"/><path d="M96.7,85.6l2.5,4.3h-5z" fill="#f0f"/><path d="M100.4,94.6l2.5,4.3h-5z" fill="#f0f"/><path d="M104.2,107.4l2.5,4.3h-5z" fill="#f0f"/><path d="M107.9,115.2l2.5,4.3h-5z" fill="#f0f"/><path d="M112,122.9l2.5,4.3h-5z" fill="#f0f"/><path d="M116.1,111.4l2.5,4.3h-5z" fill="#f0f"/><path d="M123.6,96.5l2.5,4.3h-5z" fill="#f0f"/><path d="M131,85.6l2.5,4.3h-5z" fill="#f0f"/><path d="M139,77.8l2.5,4.3h-5z" fill="#f0f"/><path d="M146.4,73.4l2.5,4.3h-5z" fill="#f0f"/><path d="M154.4,70.2l2.5,4.3h-5z" fill="#f0f"/><path d="M161.8,68.4l2.5,4.3h-5z" fill="#f0f"/><path d="M169.5,67.7l2.5,4.3h-5z" fill="#f0f"/><path d="M177.4,67.2l2.5,4.3h-5z" fill="#f0f"/><path d="M185.2,67.7l2.5,4.3h-5z" fill="#f0f"/><path d="M192.7,68.4l2.5,4.3h-5z" fill="#f0f"/><path d="M200.2,71.2l2.5,4.3h-5z" fill="#f0f"/><path d="M208,74.5l2.5,4.3h-5z" fill="#f0f"/><path d="M215.3,78.2l2.5,4.3h-5z" fill="#f0f"/><path d="M223.2,85.8l2.5,4.3h-5z" fill="#f0f"/><path d="M230.7,91.1l2.5,4.3h-5z" fill="#f0f"/><path d="M238.5,100.7l2.5,4.3h-5z" fill="#f0f"/><path d="M246.2,106.8l2.5,4.3h-5z" fill="#f0f"/><path d="M346.4,13l2.5,4.3h-5z" fill="#f0f"/><path d="M353.8,16.6l2.5,4.3h-5z" fill="#f0f"/><path d="M361.7,20.4l2.5,4.3h-5z" fill="#f0f"/><path d="M377.3,28.2l2.5,4.3h-5z" fill="#f0f"/><path d="M392.3,34.7l2.5,4.3h-5z" fill="#f0f"/><path d="M398,35.7l2.5,4.3h-5z" fill="#f0f"/><path d="M401,35.7l2.5,4.3h-5z" fill="#f0f"/><path d="M404,35.7l2.5,4.3h-5z" fill="#f0f"/><path d="M407,35.7l2.5,4.3h-5z" fill="#f0f"/><path d="M410,35.7l2.5,4.3h-5z" fill="#f0f"/><path d="M413,35.7l2.5,4.3h-5z" fill="#f0f"/><path d="M422.9,34.7l2.5,4.3h-5z" fill="#f0f"/><path d="M438.3,33.2l2.5,4.3h-5z" fill="#f0f"/><path d="M453.5,33.8l2.5,4.3h-5z" fill="#f0f"/><path d="M469,38.8l2.5,4.3h-5z" fill="#f0f"/><path d="M484.3,49.9l2.5,4.3h-5z" fill="#f0f"/><path d="M507,102.6l2.5,4.3h-5z" fill="#f0f"/><path d="M510.4,97.4l2.5,4.3h-5z" fill="#f0f"/><path d="M515.7,81.7l2.5,4.3h-5z" fill="#f0f"/><path d="M70.3,200.3l2.5,4.3h-5z" fill="#f0f"/><path d="M77.4,213.6l2.5,4.3h-5z" fill="#f0f"/><path d="M85.2,217.6l2.5,4.3h-5z" fill="#f0f"/><path d="M93.1,229.1l2.5,4.3h-5z" fill="#f0f"/><path d="M100.7,235.1l2.5,4.3h-5z" fill="#f0f"/><path d="M108.2,246l2.5,4.3h-5z" fill="#f0f"/><path d="M116.2,254.4l2.5,4.3h-5z" fill="#f0f"/><path d="M123.6,263.3l2.5,4.3h-5z" fill="#f0f"/><path d="M130.9,272.3l2.5,4.3h-5z" fill="#f0f"/><path d="M138.9,279.2l2.5,4.3h-5z" fill="#f0f"/><path d="M146.4,284.2l2.5,4.3h-5z" fill="#f0f"/><path d="M154.2,287.2l2.5,4.3h-5z" fill="#f0f"/><path d="M161.7,288.6l2.5,4.3h-5z" fill="#f0f"/><path d="M169.3,289.5l2.5,4.3h-5z" fill="#f0f"/><path d="M177.3,291.1l2.5,4.3h-5z" fill="#f0f"/><path d="M184.6,294.1l2.5,4.3h-5z" fill="#f0f"/><path d="M192.6,299.5l2.5,4.3h-5z" fill="#f0f"/><path d="M207.6,314.1l2.5,4.3h-5z" fill="#f0f"/><path d="M215.8,321l2.5,4.3h-5z" fill="#f0f"/><path d="M223.6,337.4l2.5,4.3h-5z" fill="#f0f"/><path d="M238.8,328.6l2.5,4.3h-5z" fill="#f0f"/><path d="M246.1,313.5l2.5,4.3h-5z" fill="#f0f"/><path d="M346.5,203.3l2.5,4.3h-5z" fill="#f0f"/><path d="M353.8,209.2l2.5,4.3h-5z" fill="#f0f"/><path d="M361.4,217.6l2.5,4.3h-5z" fill="#f0f"/><path d="M369.3,225.7l2.5,4.3h-5z" fill="#f0f"/><path d="M376.7,234.1l2.5,4.3h-5z" fill="#f0f"/><path d="M384.6,243.4l2.5,4.3h-5z" fill="#f0f"/><path d="M392.6,256l2.5,4.3h-5z" fill="#f0f"/><path d="M399.4,266.3l2.5,4.3h-5z" fill="#f0f"/><path d="M407.3,275.2l2.5,4.3h-5z" fill="#f0f"/><path d="M415.3,286.6l2.5,4.3h-5z" fill="#f0f"/><path d="M422.8,294.1l2.5,4.3h-5z" fill="#f0f"/><path d="M430.8,300.1l2.5,4.3h-5z" fill="#f0f"/><path d="M438.3,305.1l2.5,4.3h-5z" fill="#f0f"/><path d="M446.1,308.6l2.5,4.3h-5z" fill="#f0f"/><path d="M453.6,310l2.5,4.3h-5z" fill="#f0f"/><path d="M461.2,313l2.5,4.3h-5z" fill="#f0f"/><path d="M469,316.6l2.5,4.3h-5z" fill="#f0f"/><path d="M476.5,318.6l2.5,4.3h-5z" fill="#f0f"/><path d="M484.5,322.5l2.5,4.3h-5z" fill="#f0f"/><path d="M491.8,324.9l2.5,4.3h-5z" fill="#f0f"/><path d="M499.8,325.8l2.5,4.3h-5z" fill="#f0f"/><path d="M507.4,324l2.5,4.3h-5z" fill="#f0f"/><path d="M515,317.3l2.5,4.3h-5z" fill="#f0f"/><path d="M522.6,310.6l2.5,4.3h-5z" fill="#f0f"/></g>
<path d="M123.8,186v-3.6M123.8,0v3.6M200.6,186v-3.6M200.6,0v3.6M277.4,186v-3.6M277.4,0v3.6M47,186h4.2M323.5,186h-4.2M47,175.8h2.2M323.5,175.8h-2.2M47,169.8h2.2M323.5,169.8h-2.2M47,165.6h2.2M323.5,165.6h-2.2M47,162.3h2.2M323.5,162.3h-2.2M47,159.6h2.2M323.5,159.6h-2.2M47,157.3h2.2M323.5,157.3h-2.2M47,155.3h2.2M323.5,155.3h-2.2M47,153.6h2.2M323.5,153.6h-2.2M47,152h4.2M323.5,152h-4.2M47,141.8h2.2M323.5,141.8h-2.2M47,135.8h2.2M323.5,135.8h-2.2M47,131.6h2.2M323.5,131.6h-2.2M47,128.3h2.2M323.5,128.3h-2.2M47,125.6h2.2M323.5,125.6h-2.2M47,123.3h2.2M323.5,123.3h-2.2M47,121.4h2.2M323.5,121.4h-2.2M47,119.6h2.2M323.5,119.6h-2.2M47,118.1h4.2M323.5,118.1h-4.2M47,107.9h2.2M323.5,107.9h-2.2M47,101.9h2.2M323.5,101.9h-2.2M47,97.6h2.2M323.5,97.6h-2.2M47,94.3h2.2M323.5,94.3h-2.2M47,91.7h2.2M323.5,91.7h-2.2M47,89.4h2.2M323.5,89.4h-2.2M47,87.4h2.2M323.5,87.4h-2.2M47,85.7h2.2M323.5,85.7h-2.2M47,84.1h4.2M323.5,84.1h-4.2M47,73.9h2.2M323.5,73.9h-2.2M47,67.9h2.2M323.5,67.9h-2.2M47,63.7h2.2M323.5,63.7h-2.2M47,60.4h2.2M323.5,60.4h-2.2M47,57.7h2.2M323.5,57.7h-2.2M47,55.4h2.2M323.5,55.4h-2.2M47,53.5h2.2M323.5,53.5h-2.2M47,51.7h2.2M323.5,51.7h-2.2M47,50.2h4.2M323.5,50.2h-4.2M47,39.9h2.2M323.5,39.9h-2.2M47,34h2.2M323.5,34h-2.2M47,29.7h2.2M323.5,29.7h-2.2M47,26.4h2.2M323.5,26.4h-2.2M47,23.7h2.2M323.5,23.7h-2.2M47,21.5h2.2M323.5,21.5h-2.2M47,19.5h2.2M323.5,19.5h-2.2M47,17.8h2.2M323.5,17.8h-2.2M47,16.2h4.2M323.5,16.2h-4.2M47,6h2.2M323.5,6h-2.2M47,0h2.2M323.5,0h-2.2M400.2,186v-3.6M400.2,0v3.6M476.8,186v-3.6M476.8,0v3.6M553.5,186v-3.6M553.5,0v3.6M323.5,186h4.2M599.5,186h-4.2M323.5,175.8h2.2M599.5,175.8h-2.2M323.5,169.8h2.2M599.5,169.8h-2.2M323.5,165.6h2.2M599.5,165.6h-2.2M323.5,162.3h2.2M599.5,162.3h-2.2M323.5,159.6h2.2M599.5,159.6h-2.2M323.5,157.3h2.2M599.5,157.3h-2.2M323.5,155.3h2.2M599.5,155.3h-2.2M323.5,153.6h2.2M599.5,153.6h-2.2M323.5,152h4.2M599.5,152h-4.2M323.5,141.8h2.2M599.5,141.8h-2.2M323.5,135.8h2.2M599.5,135.8h-2.2M323.5,131.6h2.2M599.5,131.6h-2.2M323.5,128.3h2.2M599.5,128.3h-2.2M323.5,125.6h2.2M599.5,125.6h-2.2M323.5,123.3h2.2M599.5,123.3h-2.2M323.5,121.4h2.2M599.5,121.4h-2.2M323.5,119.6h2.2M599.5,119.6h-2.2M323.5,118.1h4.2M599.5,118.1h-4.2M323.5,107.9h2.2M599.5,107.9h-2.2M323.5,101.9h2.2M599.5,101.9h-2.2M323.5,97.6h2.2M599.5,97.6h-2.2M323.5,94.3h2.2M599.5,94.3h-2.2M323.5,91.7h2.2M599.5,91.7h-2.2M323.5,89.4h2.2M599.5,89.4h-2.2M323.5,87.4h2.2M599.5,87.4h-2.2M323.5,85.7h2.2M599.5,85.7h-2.2M323.5,84.1h4.2M599.5,84.1h-4.2M323.5,73.9h2.2M599.5,73.9h-2.2M323.5,67.9h2.2M599.5,67.9h-2.2M323.5,63.7h2.2M599.5,63.7h-2.2M323.5,60.4h2.2M599.5,60.4h-2.2M323.5,57.7h2.2M599.5,57.7h-2.2M323.5,55.4h2.2M599.5,55.4h-2.2M323.5,53.5h2.2M599.5,53.5h-2.2M323.5,51.7h2.2M599.5,51.7h-2.2M323.5,50.2h4.2M599.5,50.2h-4.2M323.5,39.9h2.2M599.5,39.9h-2.2M323.5,34h2.2M599.5,34h-2.2M323.5,29.7h2.2M599.5,29.7h-2.2M323.5,26.4h2.2M599.5,26.4h-2.2M323.5,23.7h2.2M599.5,23.7h-2.2M323.5,21.5h2.2M599.5,21.5h-2.2M323.5,19.5h2.2M599.5,19.5h-2.2M323.5,17.8h2.2M599.5,17.8h-2.2M323.5,16.2h4.2M599.5,16.2h-4.2M323.5,6h2.2M599.5,6h-2.2M323.5,0h2.2M599.5,0h-2.2M123.8,372v-3.6M123.8,186v3.6M200.6,372v-3.6M200.6,186v3.6M277.4,372v-3.6M277.4,186v3.6M47,372h4.2M323.5,372h-4.2M47,350.5h2.2M323.5,350.5h-2.2M47,337.9h2.2M323.5,337.9h-2.2M47,329h2.2M323.5,329h-2.2M47,322h2.2M323.5,322h-2.2M47,316.4h2.2M323.5,316.4h-2.2M47,311.6h2.2M323.5,311.6h-2.2M47,307.4h2.2M323.5,307.4h-2.2M47,303.8h2.2M323.5,303.8h-2.2M47,300.5h4.2M323.5,300.5h-4.2M47,279h2.2M323.5,279h-2.2M47,266.4h2.2M323.5,266.4h-2.2M47,257.5h2.2M323.5,257.5h-2.2M47,250.6h2.2M323.5,250.6h-2.2M47,244.9h2.2M323.5,244.9h-2.2M47,240.1h2.2M323.5,240.1h-2.2M47,236h2.2M323.5,236h-2.2M47,232.3h2.2M323.5,232.3h-2.2M47,229h4.2M323.5,229h-4.2M47,207.5h2.2M323.5,207.5h-2.2M47,194.9h2.2M323.5,194.9h-2.2M47,186h2.2M323.5,186h-2.2M400.2,372v-3.6M400.2,186v3.6M476.8,372v-3.6M476.8,186v3.6M553.5,372v-3.6M553.5,186v3.6M323.5,372h4.2M599.5,372h-4.2M323.5,350.5h2.2M599.5,350.5h-2.2M323.5,337.9h2.2M599.5,337.9h-2.2M323.5,329h2.2M599.5,329h-2.2M323.5,322h2.2M599.5,322h-2.2M323.5,316.4h2.2M599.5,316.4h-2.2M323.5,311.6h2.2M599.5,311.6h-2.2M323.5,307.4h2.2M599.5,307.4h-2.2M323.5,303.8h2.2M599.5,303.8h-2.2M323.5,300.5h4.2M599.5,300.5h-4.2M323.5,279h2.2M599.5,279h-2.2M323.5,266.4h2.2M599.5,266.4h-2.2M323.5,257.5h2.2M599.5,257.5h-2.2M323.5,250.6h2.2M599.5,250.6h-2.2M323.5,244.9h2.2M599.5,244.9h-2.2M323.5,240.1h2.2M599.5,240.1h-2.2M323.5,236h2.2M599.5,236h-2.2M323.5,232.3h2.2M599.5,232.3h-2.2M323.5,229h4.2M599.5,229h-4.2M323.5,207.5h2.2M599.5,207.5h-2.2M323.5,194.9h2.2M599.5,194.9h-2.2M323.5,186h2.2M599.5,186h-2.2" stroke="#222" stroke-width="0.9" fill="none"/><path d="M47,185.5H599.5M47,186.5H599.5M323.5,0V372M599.4,0V372" stroke="#333" stroke-width="1" fill="none"/><path d="M47,0.35H599.5" stroke="#707070" stroke-width="0.7" fill="none"/><path d="M47,371.95H599.5" stroke="#666" stroke-width="1.4" fill="none"/><path d="M47.2,0V372.6" stroke="#777" stroke-width="1.5" fill="none"/>
<text transform="translate(30.31,19.08) scale(1.1100,1)" font-size="10.4" font-weight="normal" fill="#111" stroke="#111" stroke-width="0.4">10</text><text transform="translate(36.97,53.04) scale(1.1100,1)" font-size="10.4" font-weight="normal" fill="#111" stroke="#111" stroke-width="0.4">1</text><text transform="translate(27.26,87.00) scale(1.1100,1)" font-size="10.4" font-weight="normal" fill="#111" stroke="#111" stroke-width="0.4">0.1</text><text transform="translate(18.93,120.96) scale(1.1100,1)" font-size="10.4" font-weight="normal" fill="#111" stroke="#111" stroke-width="0.4">1E-2</text><text transform="translate(18.93,154.92) scale(1.1100,1)" font-size="10.4" font-weight="normal" fill="#111" stroke="#111" stroke-width="0.4">1E-3</text><text transform="translate(30.31,231.91) scale(1.1100,1)" font-size="10.4" font-weight="normal" fill="#111" stroke="#111" stroke-width="0.4">10</text><text transform="translate(36.97,303.39) scale(1.1100,1)" font-size="10.4" font-weight="normal" fill="#111" stroke="#111" stroke-width="0.4">1</text><text transform="translate(27.26,374.88) scale(1.1100,1)" font-size="10.4" font-weight="normal" fill="#111" stroke="#111" stroke-width="0.4">0.1</text><text transform="translate(43.67,384.02) scale(1.1100,1)" font-size="10.4" font-weight="normal" fill="#111" stroke="#111" stroke-width="0.4">0</text><text transform="translate(117.28,383.90) scale(1.1100,1)" font-size="10.4" font-weight="normal" fill="#111" stroke="#111" stroke-width="0.4">50</text><text transform="translate(190.76,384.02) scale(1.1100,1)" font-size="10.4" font-weight="normal" fill="#111" stroke="#111" stroke-width="0.4">100</text><text transform="translate(267.57,383.90) scale(1.1100,1)" font-size="10.4" font-weight="normal" fill="#111" stroke="#111" stroke-width="0.4">150</text><text transform="translate(320.17,384.02) scale(1.1100,1)" font-size="10.4" font-weight="normal" fill="#111" stroke="#111" stroke-width="0.4">0</text><text transform="translate(393.65,383.90) scale(1.1100,1)" font-size="10.4" font-weight="normal" fill="#111" stroke="#111" stroke-width="0.4">50</text><text transform="translate(466.98,384.02) scale(1.1100,1)" font-size="10.4" font-weight="normal" fill="#111" stroke="#111" stroke-width="0.4">100</text><text transform="translate(543.65,383.90) scale(1.1100,1)" font-size="10.4" font-weight="normal" fill="#111" stroke="#111" stroke-width="0.4">150</text><text transform="translate(589.65,384.02) scale(1.1100,1)" font-size="10.4" font-weight="normal" fill="#111" stroke="#111" stroke-width="0.4">180</text><text transform="translate(130.13,399.18) scale(1.0965,1)" font-size="10.3" font-weight="bold" fill="#111" stroke="#111" stroke-width="0.22">Scattering angle (deg)</text><text transform="translate(401.92,399.18) scale(1.1021,1)" font-size="10.3" font-weight="bold" fill="#111" stroke="#111" stroke-width="0.22">Scattering angle (deg)</text><text transform="translate(11.70,139.72) rotate(-90) scale(1.0872,1)" font-size="10" font-weight="bold" fill="#111" stroke="#111" stroke-width="0.22">DCS (10</text><text transform="translate(5.80,96.77) rotate(-90) scale(1.4629,1)" font-size="6.4" font-weight="bold" fill="#111" stroke="#111" stroke-width="0.22">-20</text><text transform="translate(11.70,83.38) rotate(-90) scale(1.0400,1)" font-size="10" font-weight="bold" fill="#111" stroke="#111" stroke-width="0.22">m</text><text transform="translate(5.80,73.34) rotate(-90) scale(1.3667,1)" font-size="6.4" font-weight="bold" fill="#111" stroke="#111" stroke-width="0.22">2</text><text transform="translate(11.70,68.21) rotate(-90) scale(1.0286,1)" font-size="10" font-weight="bold" fill="#111" stroke="#111" stroke-width="0.22">sr</text><text transform="translate(5.80,57.81) rotate(-90) scale(1.2381,1)" font-size="6.4" font-weight="bold" fill="#111" stroke="#111" stroke-width="0.22">-1</text><text transform="translate(11.70,51.00) rotate(-90) scale(1.0000,1)" font-size="10" font-weight="bold" fill="#111" stroke="#111" stroke-width="0.22">)</text><text transform="translate(11.70,326.02) rotate(-90) scale(1.0872,1)" font-size="10" font-weight="bold" fill="#111" stroke="#111" stroke-width="0.22">DCS (10</text><text transform="translate(5.80,283.07) rotate(-90) scale(1.4629,1)" font-size="6.4" font-weight="bold" fill="#111" stroke="#111" stroke-width="0.22">-20</text><text transform="translate(11.70,269.68) rotate(-90) scale(1.0400,1)" font-size="10" font-weight="bold" fill="#111" stroke="#111" stroke-width="0.22">m</text><text transform="translate(5.80,259.64) rotate(-90) scale(1.3667,1)" font-size="6.4" font-weight="bold" fill="#111" stroke="#111" stroke-width="0.22">2</text><text transform="translate(11.70,254.51) rotate(-90) scale(1.0286,1)" font-size="10" font-weight="bold" fill="#111" stroke="#111" stroke-width="0.22">sr</text><text transform="translate(5.80,244.11) rotate(-90) scale(1.2381,1)" font-size="6.4" font-weight="bold" fill="#111" stroke="#111" stroke-width="0.22">-1</text><text transform="translate(11.70,237.30) rotate(-90) scale(1.0000,1)" font-size="10" font-weight="bold" fill="#111" stroke="#111" stroke-width="0.22">)</text><text transform="translate(156.77,131.07) scale(0.9783,1)" font-size="11.2" font-weight="bold" fill="#111" stroke="#111" stroke-width="0.22">E = 1eV</text><text transform="translate(479.36,20.93) scale(0.9809,1)" font-size="11.2" font-weight="bold" fill="#111" stroke="#111" stroke-width="0.22">E = 5eV</text><text transform="translate(177.66,231.00) scale(0.9835,1)" font-size="11.2" font-weight="bold" fill="#111" stroke="#111" stroke-width="0.22">E = 7.9eV</text><text transform="translate(467.86,229.18) scale(0.9802,1)" font-size="11.2" font-weight="bold" fill="#111" stroke="#111" stroke-width="0.22">E = 10eV</text><rect x="116.7" y="7.6" width="117.6" height="41" fill="#fff" stroke="#222" stroke-width="1"/><path d="M118.5,13.6H131.7" stroke="#f00" stroke-width="1.4"/><circle cx="125" cy="23.4" r="1.65" fill="#000"/><circle cx="125" cy="32.9" r="1.8" fill="none" stroke="#007a00" stroke-width="1.45"/><path d="M125,40l2.5,4.3h-5z" fill="#f0f"/><text transform="translate(131.76,16.80) scale(0.9831,1)" font-size="9.6" font-weight="bold" fill="#111" stroke="#111" stroke-width="0.22">MERT (Ferch et al.)</text><text transform="translate(131.76,26.20) scale(0.9815,1)" font-size="9.6" font-weight="bold" fill="#111" stroke="#111" stroke-width="0.22">Register et al. (1986)</text><text transform="translate(132.50,35.60) scale(0.9788,1)" font-size="9.6" font-weight="bold" fill="#111" stroke="#111" stroke-width="0.22">Weyhreter et al. (1988)</text><text transform="translate(132.02,45.10) scale(0.9690,1)" font-size="9.6" font-weight="bold" fill="#111" stroke="#111" stroke-width="0.22">Gibson et al. (1998)</text><rect x="348.5" y="90.7" width="103.2" height="54.5" fill="#fff" stroke="#222" stroke-width="1"/><rect x="351" y="92.2" width="11.9" height="8.5" fill="#e4e4e4"/><rect x="351" y="102.9" width="11.9" height="8.7" fill="#d5d5d5"/><rect x="351" y="113.7" width="11.9" height="8.6" fill="#c5c5c5"/><rect x="351" y="124.6" width="11.9" height="8.2" fill="#b3b3b3"/><rect x="355.15" y="137.75" width="3.5" height="3.5" fill="none" stroke="#00f" stroke-width="1.15"/><text transform="translate(364.16,99.40) scale(0.9708,1)" font-size="9.6" font-weight="bold" fill="#111" stroke="#111" stroke-width="0.22">50% credibility</text><text transform="translate(364.16,110.00) scale(0.9708,1)" font-size="9.6" font-weight="bold" fill="#111" stroke="#111" stroke-width="0.22">90% credibility</text><text transform="translate(364.16,120.60) scale(0.9708,1)" font-size="9.6" font-weight="bold" fill="#111" stroke="#111" stroke-width="0.22">95% credibility</text><text transform="translate(364.16,131.30) scale(0.9708,1)" font-size="9.6" font-weight="bold" fill="#111" stroke="#111" stroke-width="0.22">99% credibility</text><text transform="translate(363.65,142.10) scale(0.9994,1)" font-size="9.6" font-weight="bold" fill="#111" stroke="#111" stroke-width="0.22">Linert et al. (2007)</text>
</svg></body></html>
